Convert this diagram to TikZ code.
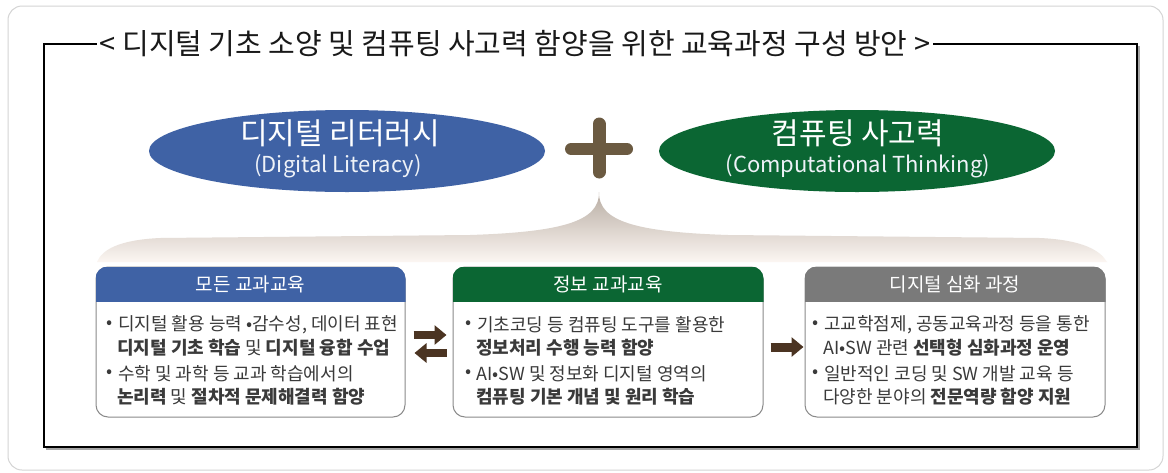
\documentclass[tikz,border=0pt]{standalone}
\usepackage{fontspec}
\setmainfont{Noto Sans CJK KR}
\usetikzlibrary{arrows.meta,shapes.geometric}
\definecolor{dlblue}{HTML}{3F62A5}
\definecolor{ctgreen}{HTML}{0B6633}
\definecolor{hdgray}{HTML}{7A7A7A}
\definecolor{plusc}{HTML}{6B5A41}
\definecolor{arrowc}{HTML}{4B3422}
\definecolor{boxline}{HTML}{8A8A8A}
\definecolor{txtc}{HTML}{3A3A3A}
\definecolor{outerc}{HTML}{D4D4D4}
\definecolor{bandtop}{HTML}{B8ADA3}
\definecolor{bandbot}{HTML}{FCF6F2}
\definecolor{subc}{HTML}{EEF2F8}
\begin{document}
\begin{tikzpicture}[x=1pt,y=-1pt,
  cbox/.style={draw=boxline, line width=1pt, rounded corners=12pt, minimum height=150pt, inner sep=0pt},
  hdtext/.style={text=white, font=\fontsize{19}{22}\selectfont, inner sep=0pt},
  ltext/.style={anchor=west, text=txtc, font=\fontsize{18}{21}\selectfont, inner sep=0pt},
  bul/.style={anchor=center, text=txtc, font=\fontsize{18}{21}\selectfont, inner sep=0pt},
  bigt/.style={text=white, font=\fontsize{30}{34}\selectfont, inner sep=0pt},
  subt/.style={text=subc, font=\fontsize{22}{25}\selectfont, inner sep=0pt},
  blockarrow/.style={arrowc, line width=8pt, -{Triangle[length=12pt,width=19pt]}}
]
\useasboundingbox (0,0) rectangle (1168,472);
\fill[white] (0,0) rectangle (1168,472);
\draw[outerc, line width=1pt, rounded corners=14pt] (8,6) rectangle (1163,470);

% main frame
\draw[black!35, line width=1.5pt] (45.5,449) -- (1139,449) -- (1139,46);
\draw[black, line width=1.8pt] (44,44) -- (44,447) -- (1137,447) -- (1137,44) -- cycle;
\node[fill=white, inner xsep=3pt, inner ysep=2pt, font=\fontsize{29}{32}\selectfont, text=black!90] (title) at (515,44) {< 디지털 기초 소양 및 컴퓨팅 사고력 함양을 위한 교육과정 구성 방안 >};

% gradient band
\shade[top color=bandtop, bottom color=bandbot] (599,192) .. controls (600,222) and (560,232) .. (470,235) -- (160,238) .. controls (118,240) and (102,250) .. (97,262) -- (1107,262) .. controls (1100,250) and (1082,240) .. (1040,238) -- (728,235) .. controls (638,232) and (598,222) .. (599,192) -- cycle;

% ellipses
\node[ellipse, fill=dlblue, minimum width=396pt, minimum height=82pt, inner sep=0pt] (dl) at (347,151) {};
\node[ellipse, fill=ctgreen, minimum width=396pt, minimum height=82pt, inner sep=0pt] (ct) at (857,151) {};
\node[bigt] (dlt) at (340,133) {디지털 리터러시};
\node[subt] (dls) at (338,166) {(Digital Literacy)};
\node[bigt] (ctt) at (858,133) {컴퓨팅 사고력};
\node[subt] (cts) at (858,166) {(Computational Thinking)};

% plus
\draw[plusc, line width=12pt, line cap=round] (571,149) -- (627,149);
\draw[plusc, line width=13pt, line cap=round] (599,124) -- (599,172);

% boxes
\node[cbox, minimum width=309pt] (b1) at (250.5,342) {};
\node[cbox, minimum width=310pt] (b2) at (608,342) {};
\node[cbox, minimum width=300pt] (b3) at (955,342) {};
\begin{scope}
\clip[rounded corners=12pt] (b1.north west) rectangle (b1.south east);
\fill[dlblue] (b1.north west) rectangle ([yshift=-35pt]b1.north east);
\end{scope}
\begin{scope}
\clip[rounded corners=12pt] (b2.north west) rectangle (b2.south east);
\fill[ctgreen] (b2.north west) rectangle ([yshift=-35pt]b2.north east);
\end{scope}
\begin{scope}
\clip[rounded corners=12pt] (b3.north west) rectangle (b3.south east);
\fill[hdgray] (b3.north west) rectangle ([yshift=-35pt]b3.north east);
\end{scope}
\node[hdtext] (h1) at ([yshift=-17.5pt]b1.north) {모든 교과교육};
\node[hdtext] (h2) at ([yshift=-17.5pt]b2.north) {정보 교과교육};
\node[hdtext] (h3) at ([yshift=-17.5pt]b3.north) {디지털 심화 과정};

% box 1 text
\node[bul] (p11) at (110,325) {•};
\node[ltext] (l11) at (118,325) {디지털 활용 능력 •감수성, 데이터 표현};
\node[ltext] (l12) at (117,348) {\textbf{디지털 기초 학습} 및 \textbf{디지털 융합 수업}};
\node[bul] (p12) at (110,374) {•};
\node[ltext] (l13) at (118,374) {수학 및 과학 등 교과 학습에서의};
\node[ltext] (l14) at (117,397) {\textbf{논리력} 및 \textbf{절차적 문제해결력 함양}};

% box 2 text
\node[bul] (p21) at (469,325) {•};
\node[ltext] (l21) at (477,325) {기초코딩 등 컴퓨팅 도구를 활용한};
\node[ltext] (l22) at (476,348) {\textbf{정보처리 수행 능력 함양}};
\node[bul] (p22) at (469,374) {•};
\node[ltext] (l23) at (476,374) {AI•SW 및 정보화 디지털 영역의};
\node[ltext] (l24) at (476,397) {\textbf{컴퓨팅 기본 개념 및 원리 학습}};

% box 3 text
\node[bul] (p31) at (816,325) {•};
\node[ltext] (l31) at (824,325) {고교학점제, 공동교육과정 등을 통한};
\node[ltext] (l32) at (823,348) {AI•SW 관련 \textbf{선택형 심화과정 운영}};
\node[bul] (p32) at (816,374) {•};
\node[ltext] (l33) at (824,374) {일반적인 코딩 및 SW 개발 교육 등};
\node[ltext] (l34) at (823,397) {다양한 분야의 \textbf{전문역량 함양 지원}};

% arrows
\draw[blockarrow] ([xshift=8pt,yshift=7pt]b1.east) -- ([xshift=-6pt,yshift=7pt]b2.west);
\draw[blockarrow] ([xshift=-6pt,yshift=-11pt]b2.west) -- ([xshift=9pt,yshift=-11pt]b1.east);
\draw[blockarrow, line width=9pt] ([xshift=7pt,yshift=-5pt]b2.east) -- ([xshift=-1pt,yshift=-5pt]b3.west);
\end{tikzpicture}
\end{document}
